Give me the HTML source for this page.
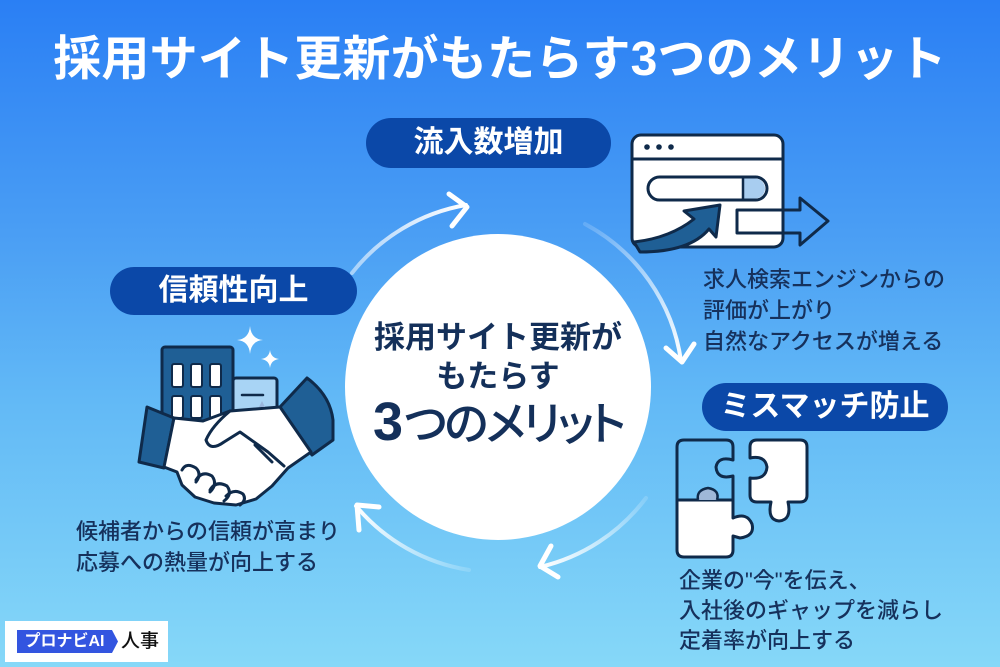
<!DOCTYPE html>
<html><head><meta charset="utf-8">
<style>
html,body{margin:0;padding:0;}
body{width:1000px;height:667px;position:relative;overflow:hidden;
background:linear-gradient(180deg,#2a7ff4 0%,#4a9ef4 35%,#62b9f6 60%,#86d8f8 100%);
font-family:"Liberation Sans","Noto Sans CJK JP",sans-serif;}
.t{position:absolute;white-space:nowrap;}
.title{left:0;width:1000px;text-align:center;top:34px;font-size:48px;line-height:52px;font-weight:700;color:#fff;letter-spacing:0.2px;}
.pill{position:absolute;background:#0b48a8;border-radius:25px;color:#fff;font-weight:700;font-size:30px;text-align:center;}
.body{font-size:22px;font-weight:500;color:#16315c;line-height:31px;}
.center{left:348px;width:300px;text-align:center;color:#14305a;font-weight:700;}
svg{position:absolute;left:0;top:0;}
</style></head><body>
<svg width="1000" height="667" viewBox="0 0 1000 667">
<defs>
<linearGradient id="g1" gradientUnits="userSpaceOnUse" x1="352" y1="273" x2="466" y2="205"><stop offset="0" stop-color="#fff" stop-opacity="0.5"/><stop offset="1" stop-color="#fff" stop-opacity="1"/></linearGradient>
<linearGradient id="g2" gradientUnits="userSpaceOnUse" x1="585" y1="224" x2="681" y2="361"><stop offset="0" stop-color="#fff" stop-opacity="0.15"/><stop offset="1" stop-color="#fff" stop-opacity="1"/></linearGradient>
<linearGradient id="g3" gradientUnits="userSpaceOnUse" x1="646" y1="498" x2="540" y2="567"><stop offset="0" stop-color="#fff" stop-opacity="0.15"/><stop offset="1" stop-color="#fff" stop-opacity="1"/></linearGradient>
<linearGradient id="g4" gradientUnits="userSpaceOnUse" x1="469" y1="570" x2="356" y2="506"><stop offset="0" stop-color="#fff" stop-opacity="0.15"/><stop offset="1" stop-color="#fff" stop-opacity="1"/></linearGradient>
</defs>
<!-- arcs -->
<g fill="none" stroke-linecap="round" stroke-linejoin="round">
<path d="M352 273 A185 185 0 0 1 466 205" stroke="url(#g1)" stroke-width="4"/>
<polyline points="449,194 467,207 452,226" stroke="#fff" stroke-width="5"/>
<path d="M585 224 A185 185 0 0 1 681 361" stroke="url(#g2)" stroke-width="4"/>
<polyline points="694,344 682,362 666,348" stroke="#fff" stroke-width="5"/>
<path d="M646 498 A185 185 0 0 1 540 567" stroke="url(#g3)" stroke-width="4"/>
<polyline points="551,546 540,566 558,577" stroke="#fff" stroke-width="5"/>
<path d="M469 570 A185 185 0 0 1 356 506" stroke="url(#g4)" stroke-width="4"/>
<polyline points="379,507 357,505 359,530" stroke="#fff" stroke-width="5"/>
</g>
<!-- center circle -->
<circle cx="498" cy="387" r="153" fill="#fff"/>

<!-- browser icon -->
<g stroke="#0f2a4a" stroke-width="3" stroke-linejoin="round">
<rect x="632" y="135" width="151" height="112" rx="9" fill="#fff"/>
<line x1="632" y1="159" x2="783" y2="159"/>
<rect x="648" y="177" width="119" height="23" rx="11.5" fill="#fff"/>
<path d="M743 178.5 L755 178.5 A10 10 0 0 1 755 198.5 L743 198.5 Z" fill="#a8cdf0" stroke="none"/>
<line x1="743" y1="178" x2="743" y2="199" stroke-width="2.5"/>
<path d="M720 205 L684 211 L694 219 Q670 238 634 242 L640 252 Q690 252 709 229 L716 237 Z" fill="#1f5f95"/>
<polygon points="737,210 800,210 800,198 828,221 800,245 800,233 737,233" fill="none"/>
</g>
<g fill="#0f2a4a"><circle cx="647" cy="147" r="2.8"/><circle cx="659" cy="147" r="2.8"/><circle cx="671" cy="147" r="2.8"/></g>

<!-- handshake icon -->
<g fill="#fff">
<path d="M250 326 Q251 339 263 340 Q251 341 250 354 Q249 341 237 340 Q249 339 250 326 Z"/>
<path d="M270 350 Q271 358 279 359 Q271 360 270 368 Q269 360 261 359 Q269 358 270 350 Z"/>
</g>
<g stroke="#0f2a4a" stroke-width="3" stroke-linejoin="round" stroke-linecap="round">
<rect x="162" y="347" width="71" height="78" rx="3" fill="#1f5f95"/>
<g fill="#fff" stroke-width="2">
<rect x="172" y="364" width="11" height="23" rx="2"/><rect x="191" y="364" width="11" height="23" rx="2"/><rect x="210" y="364" width="11" height="23" rx="2"/>
<rect x="172" y="396" width="11" height="22" rx="2"/><rect x="191" y="396" width="11" height="22" rx="2"/><rect x="210" y="396" width="11" height="22" rx="2"/>
</g>
<rect x="233" y="378" width="44" height="36" rx="3" fill="#a8d4f5"/>
<line x1="242" y1="395" x2="263" y2="395" stroke-width="2.5"/>
<polygon points="147,407 174,418 164,468 139,462" fill="#1f5f95"/>
<path d="M280 407 L307 378 Q330 395 333 420 L333 440 L312 455 Z" fill="#1f5f95"/>
<path d="M174 418 L203 421 L230 411 L280 407 L311 452 L288 468 L272 486 L256 499 L236 505 L214 503 L195 497 L182 485 L177 472 L164 467 Z" fill="#fff"/>
<path d="M230 411 Q212 426 206 440 Q210 452 224 442 L240 432 L268 452 L284 466" fill="none"/>
<path d="M255 445 L272 462" fill="none"/>
<path d="M182 470 Q186 462 196 468 Q202 474 196 482" fill="none"/>
<path d="M196 480 Q202 470 212 476 Q218 484 210 492" fill="none"/>
<path d="M210 490 Q216 480 227 486 Q233 494 224 501" fill="none"/>
<path d="M226 496 Q234 488 243 494 Q247 500 240 505" fill="none"/>
</g>
<path d="M262 401 L265 407 L259 407 Z" fill="#9bb7dc"/>

<!-- puzzle icon -->
<g stroke="#0f2a4a" stroke-width="3" stroke-linejoin="round">
<path d="M677 500 L733 500 L733 518 Q747 512 752 524 Q755 536 740 538 L733 536 L733 550 Q733 557 726 557 L684 557 Q677 557 677 550 Z" fill="#fff"/>
<path d="M684 440 L726 440 Q733 440 733 447 L733 460 Q718 456 716 467 Q717 480 733 476 L733 500 L677 500 L677 447 Q677 440 684 440 Z" fill="none"/>
<path d="M698 500 Q696 490 708 488 Q720 490 717 500" fill="#9fb8d8" stroke-width="2.5"/>
<path d="M757 440 L800 440 Q807 440 807 447 L807 495 Q807 502 800 502 L788 502 Q792 520 779 521 Q767 520 771 502 L757 502 Q750 502 750 495 L750 478 Q766 480 767 467 Q765 455 750 458 L750 447 Q750 440 757 440 Z" fill="#fff"/>
</g>

<!-- logo -->
<rect x="5" y="621" width="163" height="41" fill="#fff"/>
<polygon points="17,630 112,630 118,641.5 112,653 17,653" fill="#3355e0"/>
</svg>

<div class="t title">採用サイト更新がもたらす3つのメリット</div>

<div class="pill" style="left:366px;top:118px;width:245px;height:50px;line-height:50px;">流入数増加</div>
<div class="pill" style="left:110px;top:267px;width:247px;height:48px;line-height:48px;">信頼性向上</div>
<div class="pill" style="left:702px;top:383px;width:246px;height:48px;line-height:48px;">ミスマッチ防止</div>

<div class="t body" style="left:703px;top:264px;">求人検索エンジンからの<br>評価が上がり<br>自然なアクセスが増える</div>
<div class="t body" style="left:76px;top:516px;">候補者からの信頼が高まり<br>応募への熱量が向上する</div>
<div class="t body" style="left:679px;top:566px;line-height:30px;">企業の"今"を伝え、<br>入社後のギャップを減らし<br>定着率が向上する</div>

<div class="t center" style="top:320px;font-size:31px;line-height:36px;">採用サイト更新が</div>
<div class="t center" style="top:359px;font-size:31px;line-height:36px;">もたらす</div>
<div class="t center" style="top:394px;font-size:46px;line-height:56px;letter-spacing:-3px;font-weight:500;font-feature-settings:'palt';"><span style="font-weight:700;font-size:54px;letter-spacing:1px;">3</span>つのメリット</div>

<div class="t" style="left:17px;top:630px;width:95px;text-align:center;font-size:16px;line-height:23px;font-weight:700;color:#fff;">プロナビAI</div>
<div class="t" style="left:121px;top:628px;font-size:19px;line-height:27px;font-weight:500;color:#111;">人事</div>
</body></html>
